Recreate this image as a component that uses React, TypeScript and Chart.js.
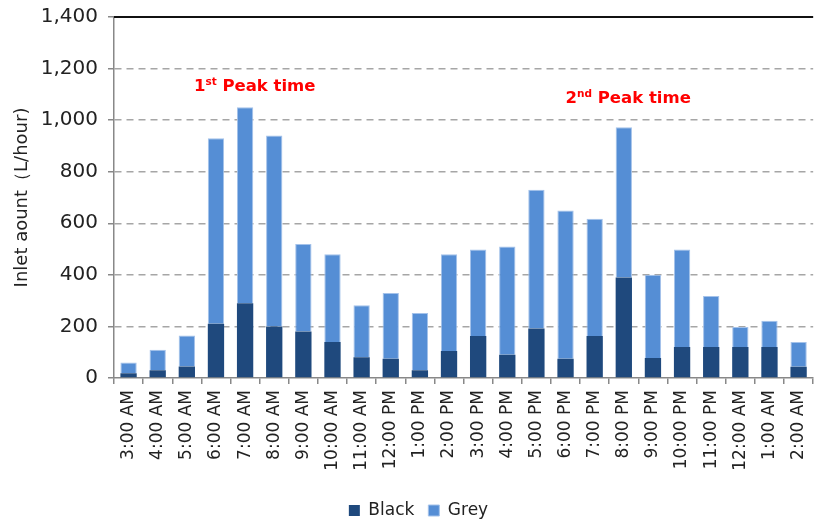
import { useEffect, useRef } from 'react';
import { Chart, registerables } from 'chart.js';

Chart.register(...registerables);

const categories = [
  '3:00 AM', '4:00 AM', '5:00 AM', '6:00 AM', '7:00 AM', '8:00 AM', '9:00 AM', '10:00 AM',
  '11:00 AM', '12:00 PM', '1:00 PM', '2:00 PM', '3:00 PM', '4:00 PM', '5:00 PM', '6:00 PM',
  '7:00 PM', '8:00 PM', '9:00 PM', '10:00 PM', '11:00 PM', '12:00 AM', '1:00 AM', '2:00 AM',
];

const blackValues = [18, 30, 45, 210, 290, 200, 180, 140, 80, 75, 30, 105, 163, 90, 192, 75, 163, 390, 78, 120, 120, 120, 120, 44];
const greyValues = [42, 80, 120, 720, 760, 740, 340, 340, 202, 255, 222, 375, 335, 420, 538, 575, 455, 582, 322, 378, 198, 78, 102, 96];

const seriesNames = ['Black', 'Grey'];
const yAxisTitle = 'Inlet aount（L/hour)';

// annotation anchors: category position and value
const peakMain = ['1', '2'];
const peakSup = ['st', 'nd'];
const peakRest = [' Peak time', ' Peak time'];
const peakAt = [4.33, 17.15];
const peakValue = [1135, 1090];

const FONT = '"DejaVu Sans", Verdana, sans-serif';

const peakPlugin = {
  id: 'peakNotes',
  afterDatasetsDraw(chart: any) {
    const { ctx, scales } = chart;
    const x = scales.x;
    const y = scales.y;
    ctx.save();
    ctx.fillStyle = '#FF0000';
    ctx.textBaseline = 'alphabetic';
    ctx.textAlign = 'left';
    const big = `bold 16.5px ${FONT}`;
    const small = `bold 10.5px ${FONT}`;
    for (let i = 0; i < peakMain.length; i++) {
      ctx.font = big;
      const w1 = ctx.measureText(peakMain[i]).width;
      const w3 = ctx.measureText(peakRest[i]).width;
      ctx.font = small;
      const w2 = ctx.measureText(peakSup[i]).width;
      const total = w1 + w2 + w3;
      let cx = x.getPixelForValue(peakAt[i]) - total / 2;
      const base = y.getPixelForValue(peakValue[i]) + 6;
      ctx.font = big;
      ctx.fillText(peakMain[i], cx, base);
      cx += w1;
      ctx.font = small;
      ctx.fillText(peakSup[i], cx, base - 6);
      cx += w2;
      ctx.font = big;
      ctx.fillText(peakRest[i], cx, base);
    }
    ctx.restore();
  },
};

const framePlugin = {
  id: 'topFrame',
  afterDraw(chart: any) {
    const { ctx, chartArea } = chart;
    ctx.save();
    ctx.strokeStyle = '#111';
    ctx.lineWidth = 2;
    ctx.beginPath();
    ctx.moveTo(chartArea.left, chartArea.top);
    ctx.lineTo(chartArea.right, chartArea.top);
    ctx.stroke();
    ctx.restore();
  },
};

const legendShiftPlugin = {
  id: 'legendShift',
  afterLayout(chart: any) {
    const l = chart.legend;
    if (l) {
      l.left += 6;
      l.right += 6;
      l.top += 10;
      l.bottom += 10;
    }
  },
};

export default function App() {
  const canvasRef = useRef<HTMLCanvasElement | null>(null);

  useEffect(() => {
    const canvas = canvasRef.current;
    if (!canvas) return;
    const chart = new Chart(canvas, {
      type: 'bar',
      data: {
        labels: categories,
        datasets: [
          {
            label: seriesNames[0],
            data: blackValues,
            backgroundColor: '#1F497D',
            borderWidth: 0,
            barPercentage: 0.56,
            categoryPercentage: 1,
          },
          {
            label: seriesNames[1],
            data: greyValues,
            backgroundColor: '#558ED5',
            borderColor: '#A4C2EA',
            borderWidth: 1,
            barPercentage: 0.56,
            categoryPercentage: 1,
          },
        ],
      },
      options: {
        animation: false,
        responsive: true,
        maintainAspectRatio: false,
        layout: { padding: { top: 17, left: 0, right: 0, bottom: 0 } },
        plugins: {
          legend: {
            position: 'bottom',
            labels: {
              boxWidth: 11,
              boxHeight: 11,
              padding: 14,
              color: '#222',
              font: { family: FONT, size: 17 },
            },
          },
          tooltip: { enabled: false },
        },
        scales: {
          x: {
            stacked: true,
            grid: {
              drawOnChartArea: false,
              drawTicks: true,
              tickLength: 6,
              color: '#888',
              lineWidth: 1.5,
            },
            border: { color: '#888', width: 1.5 },
            ticks: {
              minRotation: 90,
              maxRotation: 90,
              autoSkip: false,
              padding: 6,
              color: '#222',
              font: { family: FONT, size: 17 },
            },
            afterFit(scale: any) {
              scale.height = 100;
            },
          },
          y: {
            stacked: true,
            min: 0,
            max: 1400,
            ticks: {
              stepSize: 200,
              padding: 10,
              color: '#222',
              font: { family: FONT, size: 20 },
              callback: (v: any) => Number(v).toLocaleString('en-US'),
            },
            grid: {
              color: (c: any) => (c.tick && (c.tick.value === 0 || c.tick.value === 1400) ? 'rgba(0,0,0,0)' : '#A6A6A6'),
              lineWidth: 1.5,
              tickLength: 6,
              tickColor: '#888',
              tickWidth: 1.5,
            },
            border: { color: '#888', width: 1.5, dash: [7, 5] },
            title: {
              display: true,
              text: yAxisTitle,
              color: '#222',
              font: { family: FONT, size: 18 },
              padding: { top: 12, bottom: 0 },
            },
            afterFit(scale: any) {
              scale.width = 114;
              scale.paddingTop = 0;
              scale.paddingBottom = 0;
            },
          },
        },
      },
      plugins: [peakPlugin, framePlugin, legendShiftPlugin],
    } as any);
    return () => chart.destroy();
  }, []);

  return (
    <div style={{ position: 'fixed', left: 0, top: 0, width: 825, height: 519, background: '#fff' }}>
      <canvas ref={canvasRef} />
    </div>
  );
}
